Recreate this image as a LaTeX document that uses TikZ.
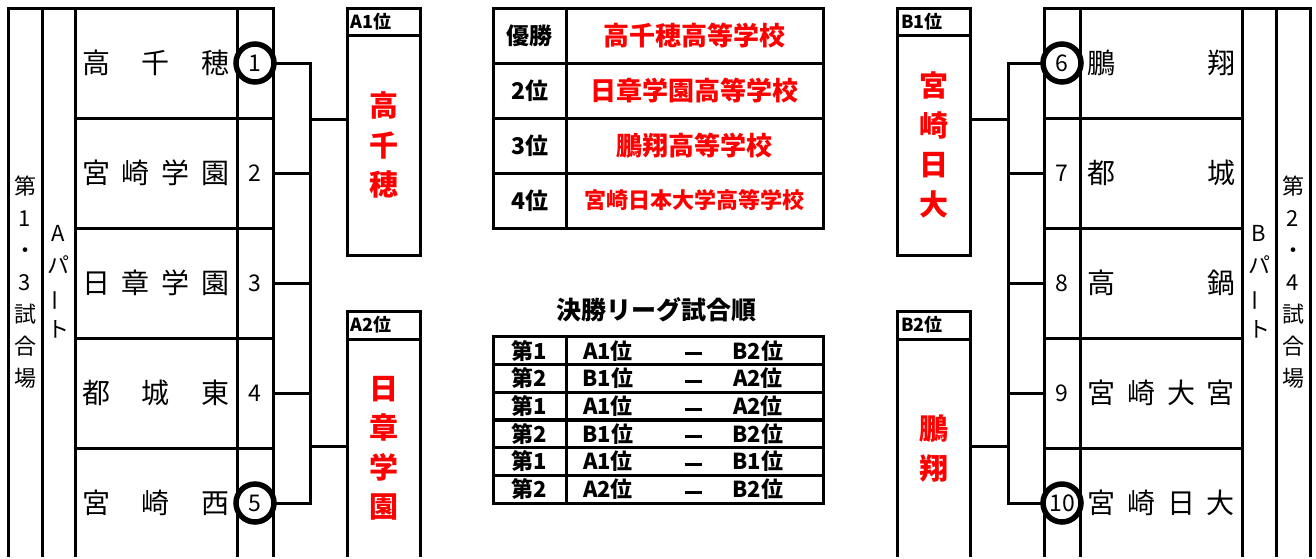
\documentclass[tikz,border=0pt]{standalone}
\usepackage{fontspec}
\setmainfont{Noto Sans CJK JP}
\usetikzlibrary{positioning}
\definecolor{winred}{RGB}{255,0,0}
\newcommand{\team}[1]{\makebox[148pt][s]{#1}}
\newcommand{\match}[2]{\makebox[84pt]{#1位}\makebox[86pt]{\rule[0.18em]{17pt}{3pt}}\makebox[44pt]{#2位}}
\newcommand{\vbar}{\rotatebox[origin=c]{90}{ー}}

\begin{document}
\begin{tikzpicture}[x=1pt, y=-1pt,
  frame/.style={rectangle, draw=black, line width=3pt, inner sep=0pt},
  partcol/.style={frame, minimum width=34pt, minimum height=550pt},
  coltext/.style={align=center, inner sep=0pt, font=\fontsize{22}{32}\selectfont},
  namecell/.style={frame, minimum width=162pt, minimum height=110pt,
    font=\fontsize{28}{30}\selectfont},
  numcell/.style={frame, minimum width=36pt, minimum height=110pt,
    font=\fontsize{23}{24}\selectfont},
  seed/.style={circle, draw=black, line width=5.5pt, minimum size=38pt, inner sep=0pt},
  rankhead/.style={frame, minimum width=73pt, minimum height=27pt, text width=66pt,
    align=left, font=\bfseries\fontsize{18}{19}\selectfont},
  rankbody/.style={frame, minimum width=73pt, align=center, text=winred,
    font=\bfseries\fontsize{29}{39.5}\selectfont},
  bracket/.style={line width=3pt},
  rescell/.style={frame, minimum height=55pt, font=\bfseries\fontsize{23}{24}\selectfont},
  ordcell/.style={frame, minimum height=27.67pt, font=\bfseries\fontsize{22}{23}\selectfont}
]
\useasboundingbox (0,0) rectangle (1316,558);
\clip (0,0) rectangle (1316,556.4);

% A part
\node[partcol] (venueA) at (25,283) {};
\node[coltext] (venueAtxt) at (25,282) {第\\1\\・\\3\\試\\合\\場};
\node[partcol, minimum width=33pt] (partA) at (58.5,283) {};
\node[coltext] (partAtxt) at (58.5,282) {A\\パ\\\vbar\\ト};

\node[namecell] (t1) at (156,63) {\team{高\hfil 千\hfil 穂}};
\node[namecell] (t2) at (156,173) {\team{宮\hfil 崎\hfil 学\hfil 園}};
\node[namecell] (t3) at (156,283) {\team{日\hfil 章\hfil 学\hfil 園}};
\node[namecell] (t4) at (156,393) {\team{都\hfil 城\hfil 東}};
\node[namecell] (t5) at (156,503) {\team{宮\hfil 崎\hfil 西}};

\node[numcell] (n1) at (255,63) {1};
\node[numcell] (n2) at (255,173) {2};
\node[numcell] (n3) at (255,283) {3};
\node[numcell] (n4) at (255,393) {4};
\node[numcell] (n5) at (255,503) {5};
\node[seed] (c1) at (n1.center) {};
\node[seed] (c5) at (n5.center) {};

% A ranks
\node[rankhead] (A1head) at (383.5,21.5) {A1位};
\node[rankbody, minimum height=220pt] (A1body) at (383.5,145) {高\\千\\穂};
\node[rankhead, minimum height=28pt] (A2head) at (383.5,325) {A2位};
\node[rankbody, minimum height=219pt] (A2body) at (383.5,448.5) {日\\章\\学\\園};

% A bracket
\coordinate (jAtop) at (310,63);
\coordinate (jAbot) at (310,503);
\draw[bracket] (n1.east) -- (jAtop) -- (jAbot) -- (n5.east);
\draw[bracket] (n2.east) -- (n2.east -| jAtop);
\draw[bracket] (n3.east) -- (n3.east -| jAtop);
\draw[bracket] (n4.east) -- (n4.east -| jAtop);
\draw[bracket] (n1.south -| jAtop) -- (n1.south -| A1body.west);
\draw[bracket] (n5.north -| jAtop) -- (n5.north -| A2body.west);

% Final standings
\node[rescell, minimum width=73pt] (rk1) at (529.5,35.5) {優勝};
\node[rescell, minimum width=73pt] (rk2) at (529.5,90.5) {2位};
\node[rescell, minimum width=73pt] (rk3) at (529.5,145.5) {3位};
\node[rescell, minimum width=73pt] (rk4) at (529.5,200.5) {4位};
\node[rescell, minimum width=257pt, text=winred, font=\bfseries\fontsize{26}{27}\selectfont]
  (sch1) at (694.5,35.5) {高千穂高等学校};
\node[rescell, minimum width=257pt, text=winred, font=\bfseries\fontsize{26}{27}\selectfont]
  (sch2) at (694.5,90.5) {日章学園高等学校};
\node[rescell, minimum width=257pt, text=winred, font=\bfseries\fontsize{26}{27}\selectfont]
  (sch3) at (694.5,145.5) {鵬翔高等学校};
\node[rescell, minimum width=257pt, text=winred, font=\bfseries\fontsize{22}{23}\selectfont]
  (sch4) at (694.5,200.5) {宮崎日本大学高等学校};

% Final league order
\node[font=\bfseries\fontsize{25}{26}\selectfont] (title) at (656,310) {決勝リーグ試合順};
\node[ordcell, minimum width=73pt] (o1) at (529.5,350.8) {第1};
\node[ordcell, minimum width=73pt] (o2) at (529.5,378.5) {第2};
\node[ordcell, minimum width=73pt] (o3) at (529.5,406.2) {第1};
\node[ordcell, minimum width=73pt] (o4) at (529.5,433.8) {第2};
\node[ordcell, minimum width=73pt] (o5) at (529.5,461.5) {第1};
\node[ordcell, minimum width=73pt] (o6) at (529.5,489.2) {第2};
\node[ordcell, minimum width=257pt, text width=257pt, align=left] (m1) at (694.5,350.8) {\match{A1}{B2}};
\node[ordcell, minimum width=257pt, text width=257pt, align=left] (m2) at (694.5,378.5) {\match{B1}{A2}};
\node[ordcell, minimum width=257pt, text width=257pt, align=left] (m3) at (694.5,406.2) {\match{A1}{A2}};
\node[ordcell, minimum width=257pt, text width=257pt, align=left] (m4) at (694.5,433.8) {\match{B1}{B2}};
\node[ordcell, minimum width=257pt, text width=257pt, align=left] (m5) at (694.5,461.5) {\match{A1}{B1}};
\node[ordcell, minimum width=257pt, text width=257pt, align=left] (m6) at (694.5,489.2) {\match{A2}{B2}};

% B ranks
\node[rankhead] (B1head) at (934,21.5) {B1位};
\node[rankbody, minimum height=220pt] (B1body) at (934,145) {宮\\崎\\日\\大};
\node[rankhead, minimum height=28pt] (B2head) at (934,325) {B2位};
\node[rankbody, minimum height=219pt] (B2body) at (934,448.5) {鵬\\翔};

% B part
\node[numcell] (n6) at (1062,63) {6};
\node[numcell] (n7) at (1062,173) {7};
\node[numcell] (n8) at (1062,283) {8};
\node[numcell] (n9) at (1062,393) {9};
\node[numcell] (n10) at (1062,503) {10};
\node[seed] (c6) at (n6.center) {};
\node[seed] (c10) at (n10.center) {};

\node[namecell] (t6) at (1161,63) {\team{鵬\hfil 翔}};
\node[namecell] (t7) at (1161,173) {\team{都\hfil 城}};
\node[namecell] (t8) at (1161,283) {\team{高\hfil 鍋}};
\node[namecell] (t9) at (1161,393) {\team{宮\hfil 崎\hfil 大\hfil 宮}};
\node[namecell] (t10) at (1161,503) {\team{宮\hfil 崎\hfil 日\hfil 大}};

\node[partcol] (partB) at (1259,283) {};
\node[coltext] (partBtxt) at (1259,282) {B\\パ\\\vbar\\ト};
\node[partcol] (venueB) at (1293,283) {};
\node[coltext] (venueBtxt) at (1293,282) {第\\2\\・\\4\\試\\合\\場};

% B bracket
\coordinate (jBtop) at (1008,63);
\coordinate (jBbot) at (1008,503);
\draw[bracket] (n6.west) -- (jBtop) -- (jBbot) -- (n10.west);
\draw[bracket] (n7.west) -- (n7.west -| jBtop);
\draw[bracket] (n8.west) -- (n8.west -| jBtop);
\draw[bracket] (n9.west) -- (n9.west -| jBtop);
\draw[bracket] (n6.south -| jBtop) -- (n6.south -| B1body.east);
\draw[bracket] (n10.north -| jBtop) -- (n10.north -| B2body.east);
\end{tikzpicture}
\end{document}
